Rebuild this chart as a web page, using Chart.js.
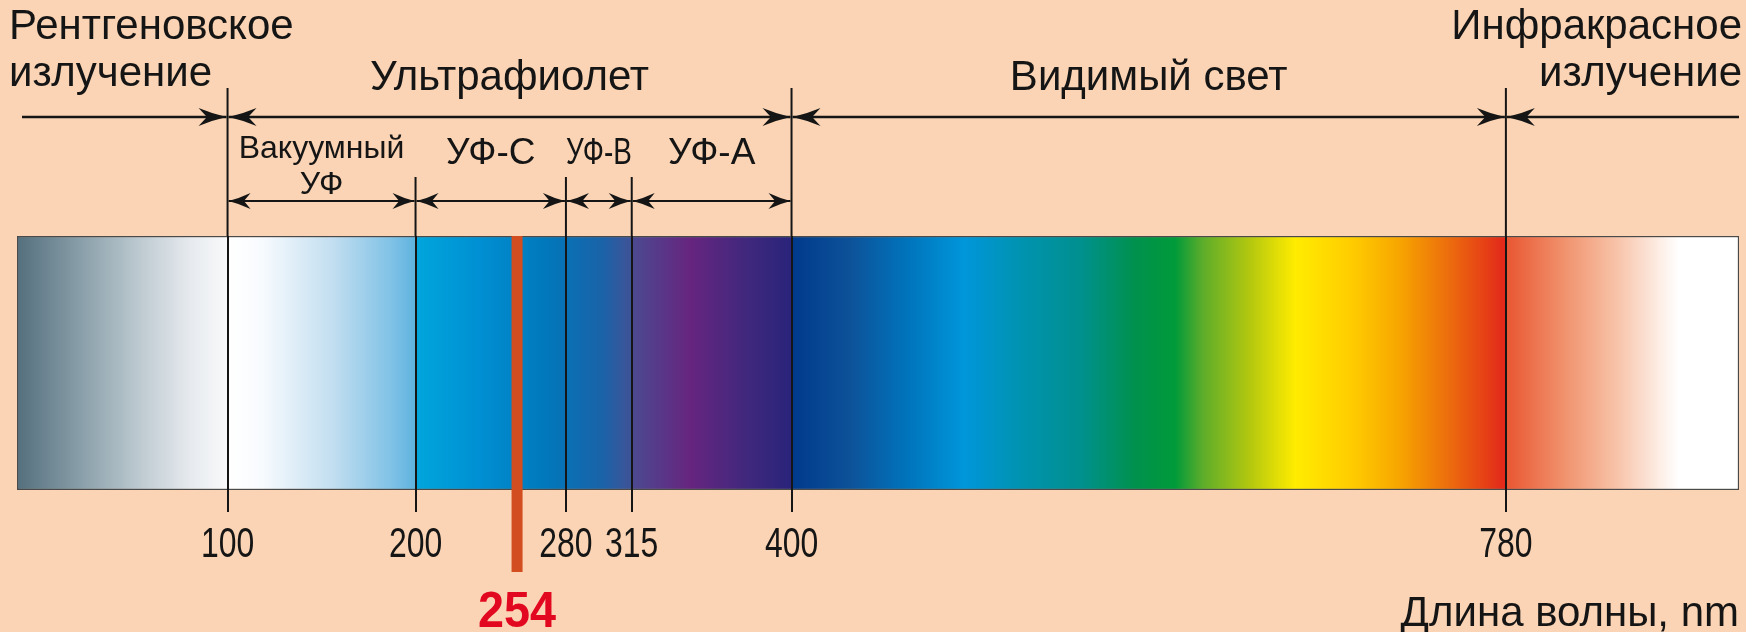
<!DOCTYPE html>
<html lang="ru">
<head>
<meta charset="UTF-8">
<title>Спектр излучения</title>
<script src="https://cdn.jsdelivr.net/npm/chart.js@4.4.1/dist/chart.umd.min.js"></script>
<style>
  body { margin: 0; background: #fad4b4; overflow: hidden; }
  .wrap { width: 1746px; height: 632px; }
</style>
</head>
<body>
<div class="wrap"><canvas id="spectrum" width="1746" height="632"></canvas></div>
<script>
// wavelength range covered by the bar, nm
const axisMin = -12;
const axisMax = 904;

// band boundaries shown as ticks
const boundaryNm = [100, 200, 280, 315, 400, 780];
const boundaryLabels = ['100', '200', '280', '315', '400', '780'];

// main bands (null = runs off the edge of the bar)
const bandNames = [['Рентгеновское', 'излучение'], ['Ультрафиолет'], ['Видимый свет'], ['Инфракрасное', 'излучение']];
const bandFrom = [null, 100, 400, 780];
const bandTo = [100, 400, 780, null];

// UV sub-bands
const subNames = [['Вакуумный', 'УФ'], ['УФ-С'], ['УФ-В'], ['УФ-А']];
const subFrom = [100, 200, 280, 315];
const subTo = [200, 280, 315, 400];

// lamp line
const markNm = 254;
const markLabel = '254';

const axisTitle = 'Длина волны, nm';

// colour of the bar along the wavelength axis
const gradNm = [-12, 25, 55, 80, 99.8,
                100, 118, 156, 187, 199.8,
                200, 233, 269, 300, 312, 314.8,
                315, 346, 376, 399.8,
                400, 431, 461, 492, 522, 553, 583, 604, 619, 644, 668, 698, 723, 750, 779.8,
                780, 783, 810, 841, 862, 872, 904];
const gradColor = ['#546f7d', '#8ea3ad', '#c0ccd2', '#e6eaee', '#f8f9fa',
                   '#ffffff', '#f8fbfe', '#c2def0', '#80c2e6', '#5fb3df',
                   '#00a6dc', '#0090d3', '#0078bb', '#1b62a8', '#3a5599', '#3d5298',
                   '#4b4a91', '#66257f', '#40287d', '#29247a',
                   '#00398b', '#0d5299', '#0073bb', '#0096da', '#0093b0', '#009090', '#00914d', '#009a3a', '#5ead2a', '#b4c80f', '#ffec00', '#ffcc00', '#f7a600', '#ec6c0d', '#e2271b',
                   '#e85a35', '#e95c37', '#f0906b', '#f8c7ad', '#fdeee6', '#ffffff', '#ffffff'];

const INK = '#151515';
const FONT = "'Liberation Sans', Arial, sans-serif";

function arrowHead(ctx, x, y, dir, len, half) {
  ctx.beginPath();
  ctx.moveTo(x, y);
  ctx.quadraticCurveTo(x - dir * len * 0.5, y - half * 0.35, x - dir * len, y - half);
  ctx.lineTo(x - dir * len * 0.7, y);
  ctx.lineTo(x - dir * len, y + half);
  ctx.quadraticCurveTo(x - dir * len * 0.5, y + half * 0.35, x, y);
  ctx.fill();
}

function arrow(ctx, x1, x2, y, headL, headR, len, half) {
  ctx.beginPath();
  ctx.moveTo(x1, y);
  ctx.lineTo(x2, y);
  ctx.stroke();
  if (headL) arrowHead(ctx, x1, y, -1, len, half);
  if (headR) arrowHead(ctx, x2, y, 1, len, half);
}

const annotations = {
  id: 'annotations',
  afterDraw(chart) {
    const {ctx, chartArea: a, scales: {x}} = chart;
    const px = v => x.getPixelForValue(v);
    ctx.save();
    ctx.strokeStyle = INK;
    ctx.fillStyle = INK;

    // division lines above the bar
    ctx.lineWidth = 2;
    boundaryNm.forEach(v => {
      const major = bandFrom.includes(v);
      ctx.beginPath();
      ctx.moveTo(px(v), major ? 88 : 177);
      ctx.lineTo(px(v), a.top);
      ctx.stroke();
    });

    // main band arrows
    ctx.lineWidth = 2.5;
    bandFrom.forEach((f, i) => {
      const t = bandTo[i];
      const x1 = f === null ? a.left + 5 : px(f) + 1;
      const x2 = t === null ? a.right : px(t) - 1;
      arrow(ctx, x1, x2, 117, f !== null, t !== null, 28, 9);
    });

    // sub-band arrows
    ctx.lineWidth = 2;
    subFrom.forEach((f, i) => {
      arrow(ctx, px(f) + 1, px(subTo[i]) - 1, 201, true, true, 22, 8);
    });

    // band names
    ctx.textBaseline = 'alphabetic';
    ctx.font = `42px ${FONT}`;
    bandNames.forEach((lines, i) => {
      let tx, align;
      if (bandFrom[i] === null) { tx = 9; align = 'left'; }
      else if (bandTo[i] === null) { tx = 1742; align = 'right'; }
      else { tx = (px(bandFrom[i]) + px(bandTo[i])) / 2; align = 'center'; }
      ctx.textAlign = align;
      const ys = lines.length === 2 ? [39, 86] : [90];
      lines.forEach((s, k) => ctx.fillText(s, tx, ys[k]));
    });

    // sub-band names
    ctx.textAlign = 'center';
    subNames.forEach((lines, i) => {
      const x1 = px(subFrom[i]), x2 = px(subTo[i]);
      const cx = (x1 + x2) / 2;
      if (lines.length === 2) {
        ctx.font = `32px ${FONT}`;
        ctx.fillText(lines[0], cx, 158);
        ctx.fillText(lines[1], cx, 194);
      } else {
        ctx.font = `37px ${FONT}`;
        ctx.fillText(lines[0], cx, 164, x2 - x1);
      }
    });

    // tick labels: condensed digits at the axis tick positions
    ctx.font = `42px ${FONT}`;
    x.ticks.forEach((t, i) => {
      ctx.save();
      ctx.translate(x.getPixelForTick(i), 557);
      ctx.scale(0.76, 1);
      ctx.fillText(t.label, 0, 0);
      ctx.restore();
    });

    // 254 nm line and label
    const mx = px(markNm);
    ctx.fillStyle = '#d24d1f';
    ctx.fillRect(mx - 5.5, a.top, 11, 572 - a.top);
    ctx.fillStyle = '#e2081f';
    ctx.font = `bold 50px ${FONT}`;
    ctx.fillText(markLabel, mx, 627, 78);
    ctx.restore();
  }
};

new Chart(document.getElementById('spectrum'), {
  type: 'bar',
  data: {
    labels: ['spectrum'],
    datasets: [{
      data: [[axisMin, axisMax]],
      backgroundColor: (c) => {
        const chart = c.chart;
        const area = chart.chartArea;
        if (!area) return gradColor[0];
        const xs = chart.scales.x;
        const g = chart.ctx.createLinearGradient(area.left, 0, area.right, 0);
        gradNm.forEach((nm, i) => {
          const off = (xs.getPixelForValue(nm) - area.left) / (area.right - area.left);
          g.addColorStop(Math.min(1, Math.max(0, off)), gradColor[i]);
        });
        return g;
      },
      borderColor: '#4a4a4a',
      borderWidth: 1.5,
      borderSkipped: false,
      barPercentage: 1,
      categoryPercentage: 1
    }]
  },
  options: {
    indexAxis: 'y',
    responsive: false,
    animation: false,
    layout: { padding: { top: 236, left: 17, right: 7, bottom: 0 } },
    plugins: { legend: { display: false }, tooltip: { enabled: false } },
    scales: {
      y: { display: false },
      x: {
        type: 'linear',
        min: axisMin,
        max: axisMax,
        afterBuildTicks: (axis) => { axis.ticks = boundaryNm.map(v => ({ value: v })); },
        afterFit: (axis) => { axis.height = 142; },
        border: { display: false },
        grid: { color: INK, lineWidth: 2, tickLength: 22, drawOnChartArea: true, z: 1 },
        ticks: {
          display: false,
          autoSkip: false,
          maxRotation: 0,
          callback: (v) => boundaryLabels[boundaryNm.indexOf(v)]
        },
        title: {
          display: true,
          text: axisTitle,
          align: 'end',
          color: INK,
          font: { family: FONT, size: 42 },
          padding: { top: 0, bottom: -8 }
        }
      }
    }
  },
  plugins: [annotations]
});
</script>
</body>
</html>
